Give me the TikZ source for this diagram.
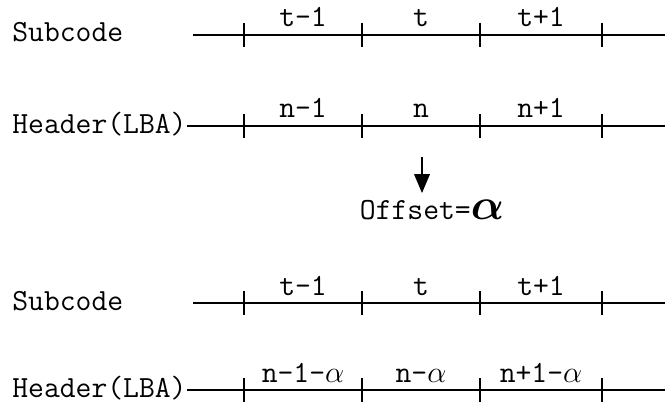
\documentclass[tikz,border=0pt]{standalone}
\usepackage{fontspec}
\usepackage{amsmath}
\usetikzlibrary{arrows}

\begin{document}
\begin{tikzpicture}[x=0.02cm,y=-0.02cm,
  every node/.style={font=\ttfamily\fontsize{17.5}{19}\selectfont,inner sep=0pt},
  axisline/.style={black,line width=1.2pt},
  tickmark/.style={black,line width=1.2pt}]

\useasboundingbox (0,0) rectangle (665,405);

% one row: #1 y, #2 line start, #3 name, #4 #5 #6 slot labels
\newcommand{\slotrow}[6]{
  \node[anchor=base west] at (12,#1+7) {#3};
  \draw[axisline] (#2,#1) -- (665,#1);
  \foreach \tx in {244,362,480,602}
    \draw[tickmark] (\tx,#1-12) -- (\tx,#1+12);
  \node[anchor=base] at (303,#1-8) {#4};
  \node[anchor=base] at (421,#1-8) {#5};
  \node[anchor=base] at (541,#1-8) {#6};
}

\slotrow{35}{193}{Subcode}{t-1}{t}{t+1}
\slotrow{126}{187}{Header(LBA)}{n-1}{n}{n+1}

\coordinate (arrtop) at (422,157);
\coordinate (arrend) at (422,193);
\node[anchor=base] (offset) at (432,219) {Offset={\fontsize{24}{24}\selectfont$\boldsymbol{\alpha}$}};
\draw[-triangle 45,line width=1.5pt] (arrtop) -- (arrend);

\slotrow{303}{193}{Subcode}{t-1}{t}{t+1}
\slotrow{390}{187}{Header(LBA)}{n-1-$\alpha$}{n-$\alpha$}{n+1-$\alpha$}

\end{tikzpicture}
\end{document}
